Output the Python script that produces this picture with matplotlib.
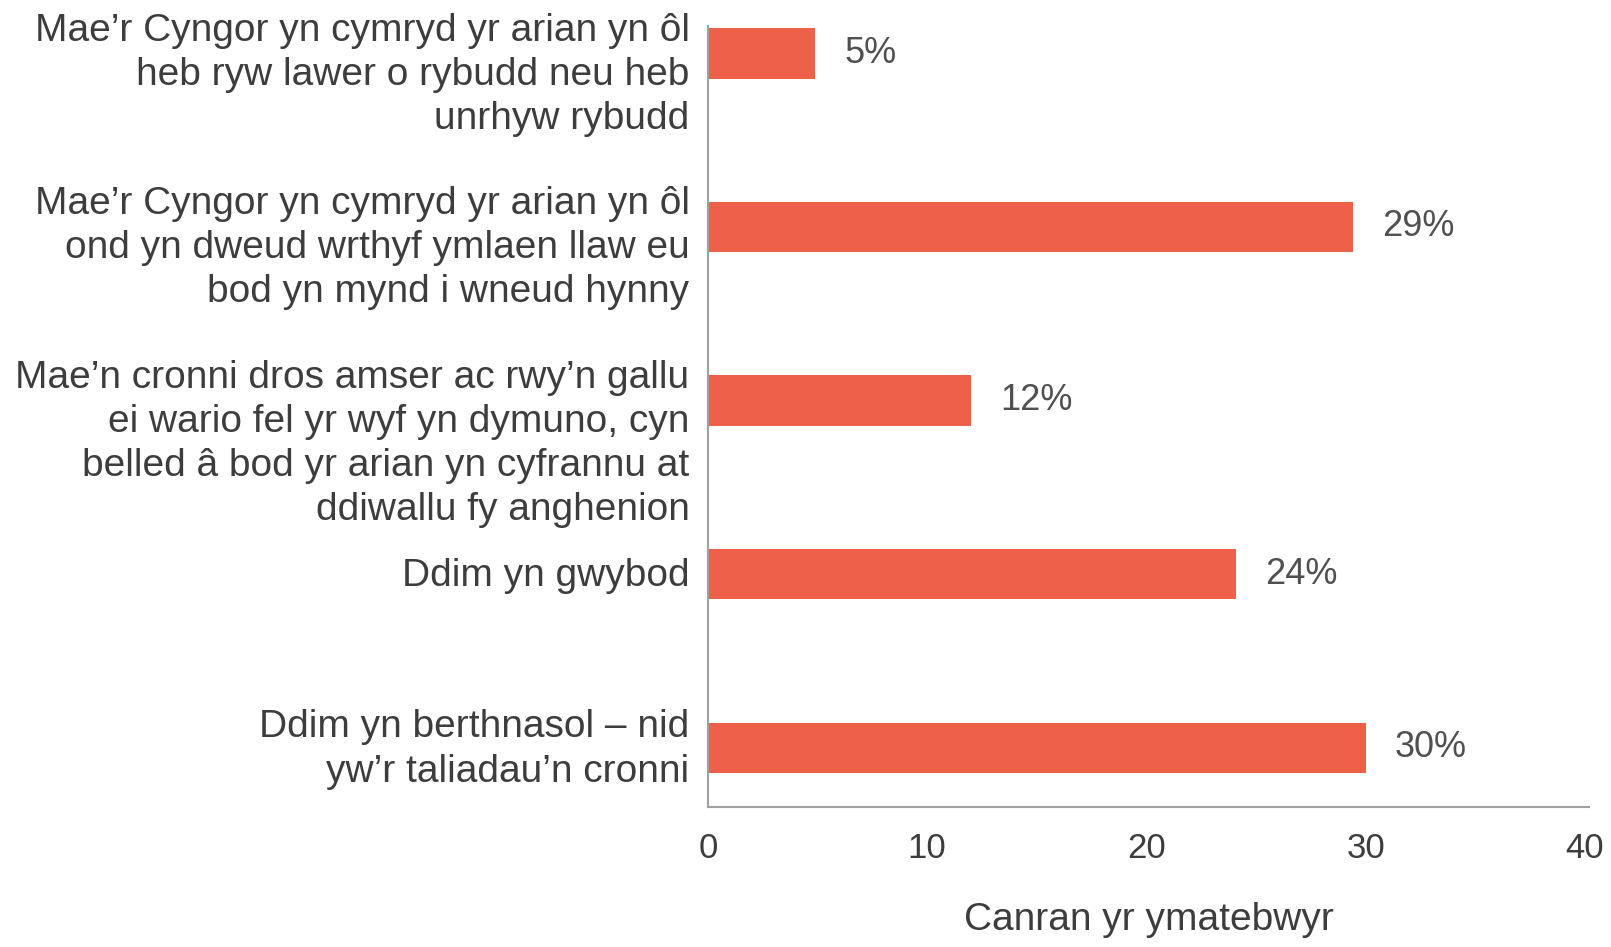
import matplotlib.pyplot as plt
import matplotlib.transforms as mtransforms
import numpy as np

plt.rcParams['font.family'] = ['Liberation Sans', 'DejaVu Sans']

categories = [
    'Mae’r Cyngor yn cymryd yr arian yn ôl\nheb ryw lawer o rybudd neu heb\nunrhyw rybudd',
    'Mae’r Cyngor yn cymryd yr arian yn ôl\nond yn dweud wrthyf ymlaen llaw eu\nbod yn mynd i wneud hynny',
    'Mae’n cronni dros amser ac rwy’n gallu\nei wario fel yr wyf yn dymuno, cyn\nbelled â bod yr arian yn cyfrannu at\nddiwallu fy anghenion',
    'Ddim yn gwybod',
    'Ddim yn berthnasol – nid\nyw’r taliadau’n cronni',
]
values = [4.9, 29.4, 12, 24.1, 30]
value_labels = ['5%', '29%', '12%', '24%', '30%']
xticks = [0, 10, 20, 30, 40]

bar_color = '#EE6049'
text_color = '#3d3d3d'
bar_h = 0.29

fig = plt.figure(figsize=(16.11, 9.47), dpi=100)
ax = fig.add_axes([0.4395, 0.148, 0.547, 0.825])

pos = np.arange(len(categories))
ax.barh(pos, values, height=bar_h, color=bar_color)
ax.set_xlim(0, 40.2)
ax.set_ylim(len(categories) - 1 + 0.34, -0.16)

ax.set_yticks([])
ax.set_xticks(xticks)
ax.set_xticklabels([str(t) for t in xticks], fontsize=25, color=text_color)
ax.tick_params(axis='x', length=0, pad=18)

for s in ['top', 'right']:
    ax.spines[s].set_visible(False)
for s in ['left', 'bottom']:
    ax.spines[s].set_color('#a0a0a0')
    ax.spines[s].set_linewidth(1.5)

# category labels: long ones hang from the bar top, short ones centred
trans = mtransforms.blended_transform_factory(ax.transAxes, ax.transData)
for i, lab in enumerate(categories):
    if lab.count('\n') >= 2:
        ax.text(-0.021, i - bar_h / 2 - 0.09, lab, transform=trans, ha='right', va='top',
                fontsize=28, color=text_color, linespacing=1.29)
    else:
        ax.text(-0.021, i + 0.01, lab, transform=trans, ha='right', va='center',
                fontsize=28, color=text_color, linespacing=1.29)

for i, (v, t) in enumerate(zip(values, value_labels)):
    ax.annotate(t, (v, i), xytext=(21, 0), textcoords='offset points',
                ha='left', va='center', fontsize=26, color='#505050')

ax.set_xlabel('Canran yr ymatebwyr', fontsize=28, color=text_color, labelpad=27)

fig.savefig('out.png', dpi=100)
